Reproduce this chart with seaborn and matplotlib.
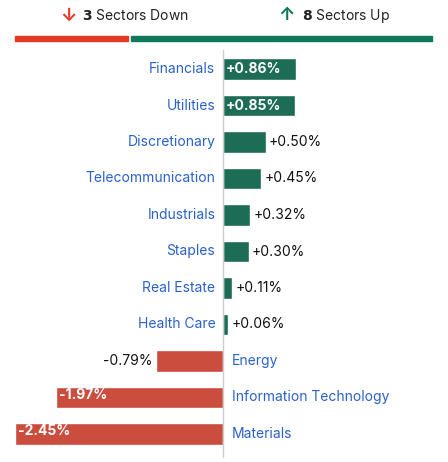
import matplotlib
matplotlib.use("Agg")
import matplotlib.pyplot as plt
import seaborn as sns
import pandas as pd

sectors = ["Financials", "Utilities", "Discretionary", "Telecommunication", "Industrials",
           "Staples", "Real Estate", "Health Care", "Energy", "Information Technology", "Materials"]
changes = [0.86, 0.85, 0.50, 0.45, 0.32, 0.30, 0.11, 0.06, -0.79, -1.97, -2.45]
n_down = 3
n_up = 8

GREEN = "#10795a"
RED = "#e33b26"
BLUE = "#2a62c9"

sns.set_theme(style="white")
plt.rcParams['font.family'] = ['Inter', 'DejaVu Sans']

df = pd.DataFrame({"sector": sectors, "change": changes})
df["color"] = [GREEN if c >= 0 else RED for c in changes]

W, H = 448, 462
fig = plt.figure(figsize=(W / 100, H / 100), dpi=100)

# header
fig.text(60 / W, 1 - 16 / H, "↓", color=RED, fontsize=13, fontweight="bold", va="center", ha="left")
fig.text(82 / W, 1 - 16 / H, f"$\\bf{{{n_down}}}$ Sectors Down", color="#222", fontsize=10, va="center")
fig.text(278 / W, 1 - 16 / H, "↑", color=GREEN, fontsize=13, fontweight="bold", va="center", ha="left")
fig.text(302 / W, 1 - 16 / H, f"$\\bf{{{n_up}}}$ Sectors Up", color="#222", fontsize=10, va="center")
fig.patches.append(plt.Rectangle((15 / W, 1 - 41 / H), 113 / W, 5 / H, color=RED, transform=fig.transFigure))
fig.patches.append(plt.Rectangle((131 / W, 1 - 41 / H), 301 / W, 5 / H, color=GREEN, transform=fig.transFigure))

top_px, bot_px = 50, 458
ax = fig.add_axes([0, 1 - bot_px / H, 1, (bot_px - top_px) / H])
sns.barplot(data=df, y="sector", x="change", hue="sector", palette=list(df["color"]),
            orient="h", width=0.6, legend=False, ax=ax)
ax.set_xlim(-223 / 85, (W - 223) / 85)
step = 36.5
ax.set_ylim((bot_px - 69) / step, (top_px - 69) / step)
ax.axvline(0, color="#cccccc", lw=1)
ax.axis("off")

for i, (s, c) in enumerate(zip(sectors, changes)):
    txt = f"{c:+.2f}%"
    if c >= 0:
        ax.text(-0.09, i, s, ha="right", va="center", color=BLUE, fontsize=10)
        if c > 0.7:
            ax.text(0.03, i, txt, ha="left", va="center", color="white", fontsize=10, fontweight="bold")
        else:
            ax.text(c + 0.04, i, txt, ha="left", va="center", color="#111", fontsize=10)
    else:
        ax.text(0.1, i, s, ha="left", va="center", color=BLUE, fontsize=10)
        if c < -1.5:
            ax.text(c + 0.04, i - 0.08, txt, ha="left", va="center", color="white", fontsize=10, fontweight="bold")
        else:
            ax.text(c - 0.04, i, txt, ha="right", va="center", color="#111", fontsize=10)

fig.savefig("out.png", dpi=100)
